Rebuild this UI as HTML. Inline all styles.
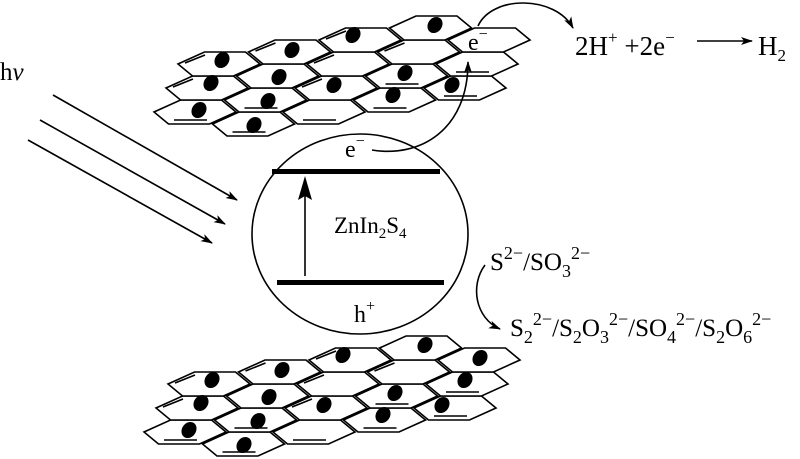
<!DOCTYPE html>
<html><head><meta charset="utf-8"><style>
html,body{margin:0;padding:0;background:#fff}
svg{display:block}
text{font-family:"Liberation Serif",serif;fill:#000}
</style></head><body>
<svg width="800" height="459" viewBox="0 0 800 459" xmlns="http://www.w3.org/2000/svg">
<defs>
<g id="hx"><polygon points="41,0 26.5,-12 -14.5,-12 -41,0 -26.5,12 14.5,12" fill="#fff" stroke="#000" stroke-width="1.6"/></g>
<g id="hb"><polygon points="41,0 26.5,-12 -14.5,-12 -41,0 -26.5,12 14.5,12" fill="#fff" stroke="#000" stroke-width="1.6"/><line x1="-21" y1="8" x2="12" y2="8" stroke="#000" stroke-width="1.6"/></g>
<g id="hu"><polygon points="41,0 26.5,-12 -14.5,-12 -41,0 -26.5,12 14.5,12" fill="#fff" stroke="#000" stroke-width="1.6"/><line x1="-34" y1="-1" x2="-14" y2="-9" stroke="#000" stroke-width="1.6"/></g>
<ellipse id="dt" rx="7" ry="8.5" transform="rotate(35)" fill="#000"/>
<marker id="ah" markerWidth="12" markerHeight="8" refX="11" refY="4" orient="auto" markerUnits="userSpaceOnUse"><path d="M0,0 L12,4 L0,8 L3,4z" fill="#000"/></marker>
</defs>

<g id="sheetTop">
<use href="#hb" x="195" y="112"/><use href="#hu" x="207" y="88"/><use href="#hu" x="219" y="64"/>
<use href="#hb" x="253.5" y="124"/><use href="#hb" x="265.5" y="100"/><use href="#hx" x="277.5" y="76"/><use href="#hu" x="289.5" y="52"/>
<use href="#hb" x="324" y="112"/><use href="#hu" x="336" y="88"/><use href="#hu" x="348" y="64"/><use href="#hu" x="360" y="40"/>
<use href="#hb" x="394.5" y="100"/><use href="#hb" x="406.5" y="76"/><use href="#hu" x="418.5" y="52"/><use href="#hx" x="430.5" y="28"/>
<use href="#hb" x="465" y="88"/><use href="#hb" x="477" y="64"/><use href="#hx" x="489" y="40"/>
<use href="#dt" x="199" y="110"/><use href="#dt" x="211" y="83"/><use href="#dt" x="222" y="60"/>
<use href="#dt" x="254" y="125"/><use href="#dt" x="268" y="101"/><use href="#dt" x="279" y="77"/><use href="#dt" x="292" y="50"/>
<use href="#dt" x="334" y="85"/><use href="#dt" x="353" y="35"/>
<use href="#dt" x="393" y="95"/><use href="#dt" x="405" y="73"/><use href="#dt" x="435" y="25"/><use href="#dt" x="452" y="85"/>
</g>
<text x="468" y="50" font-size="24">e<tspan font-size="16" dy="-11">−</tspan></text>

<g transform="translate(-10,320)">
<use href="#hb" x="195" y="112"/><use href="#hu" x="207" y="88"/><use href="#hu" x="219" y="64"/>
<use href="#hb" x="253.5" y="124"/><use href="#hb" x="265.5" y="100"/><use href="#hx" x="277.5" y="76"/><use href="#hu" x="289.5" y="52"/>
<use href="#hb" x="324" y="112"/><use href="#hu" x="336" y="88"/><use href="#hu" x="348" y="64"/><use href="#hu" x="360" y="40"/>
<use href="#hb" x="394.5" y="100"/><use href="#hb" x="406.5" y="76"/><use href="#hu" x="418.5" y="52"/><use href="#hx" x="430.5" y="28"/>
<use href="#hb" x="465" y="88"/><use href="#hb" x="477" y="64"/><use href="#hx" x="489" y="40"/>
<use href="#dt" x="199" y="110"/><use href="#dt" x="211" y="83"/><use href="#dt" x="222" y="60"/>
<use href="#dt" x="254" y="125"/><use href="#dt" x="268" y="101"/><use href="#dt" x="279" y="77"/><use href="#dt" x="292" y="50"/>
<use href="#dt" x="334" y="85"/><use href="#dt" x="353" y="35"/>
<use href="#dt" x="393" y="95"/><use href="#dt" x="405" y="73"/><use href="#dt" x="435" y="25"/><use href="#dt" x="452" y="85"/>
<use href="#dt" x="475" y="60"/><use href="#dt" x="490" y="38"/>
</g>

<!-- hv -->
<text x="0" y="80" font-size="25">h<tspan font-style="italic">v</tspan></text>
<g stroke="#000" stroke-width="1.6" fill="none" marker-end="url(#ah)">
<line x1="53" y1="95" x2="237" y2="200"/>
<line x1="40" y1="120" x2="225" y2="224"/>
<line x1="28" y1="140" x2="212" y2="243"/>
</g>

<!-- circle -->
<ellipse cx="360" cy="234" rx="108" ry="100" fill="none" stroke="#000" stroke-width="1.6"/>
<rect x="272" y="169" width="168" height="5" fill="#000"/>
<rect x="277" y="280" width="167" height="5" fill="#000"/>
<line x1="305" y1="276" x2="305" y2="182" stroke="#000" stroke-width="1.6"/>
<path d="M305,176 L298,200 L305,196 L312,200z" fill="#000"/>
<text x="334" y="233" font-size="23">ZnIn<tspan font-size="15" dy="5">2</tspan><tspan dy="-5">S</tspan><tspan font-size="15" dy="5">4</tspan></text>
<text x="345" y="157" font-size="24">e<tspan font-size="16" dy="-11">−</tspan></text>
<text x="354" y="322" font-size="24">h<tspan font-size="16" dy="-11">+</tspan></text>

<!-- curved arrows -->
<path d="M372,150 C420,158 468,130 468,62" fill="none" stroke="#000" stroke-width="1.6" marker-end="url(#ah)"/>
<path d="M478,26 C492,-5 555,-5 573,28" fill="none" stroke="#000" stroke-width="1.6" marker-end="url(#ah)"/>
<text x="575" y="55" font-size="27">2H<tspan font-size="17" dy="-12">+</tspan><tspan dy="12"> +2e</tspan><tspan font-size="17" dy="-12">−</tspan></text>
<line x1="697" y1="41" x2="752" y2="41" stroke="#000" stroke-width="1.6" marker-end="url(#ah)"/>
<text x="758" y="55" font-size="27">H<tspan font-size="17" dy="6">2</tspan></text>

<text x="490" y="270" font-size="25">S<tspan font-size="18" dy="-11">2−</tspan><tspan dy="11">/SO</tspan><tspan font-size="18" dy="7">3</tspan><tspan font-size="18" dy="-18">2−</tspan></text>
<path d="M485,265 C470,285 475,318 500,329" fill="none" stroke="#000" stroke-width="1.6" marker-end="url(#ah)"/>
<text x="510" y="336" font-size="25">S<tspan font-size="18" dy="7">2</tspan><tspan font-size="18" dy="-18">2−</tspan><tspan dy="11">/S</tspan><tspan font-size="18" dy="7">2</tspan><tspan dy="-7">O</tspan><tspan font-size="18" dy="7">3</tspan><tspan font-size="18" dy="-18">2−</tspan><tspan dy="11">/SO</tspan><tspan font-size="18" dy="7">4</tspan><tspan font-size="18" dy="-18">2−</tspan><tspan dy="11">/S</tspan><tspan font-size="18" dy="7">2</tspan><tspan dy="-7">O</tspan><tspan font-size="18" dy="7">6</tspan><tspan font-size="18" dy="-18">2−</tspan></text>
</svg>
</body></html>
